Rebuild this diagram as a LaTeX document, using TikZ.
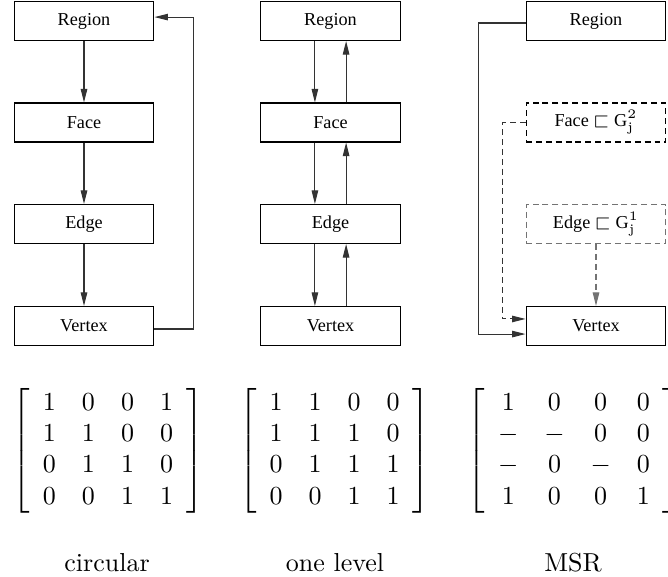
\documentclass[tikz,border=0pt]{standalone}
\usepackage{amssymb}
\usepackage{fontspec}
\newfontfamily\boxfont{Liberation Serif}
\usetikzlibrary{arrows.meta}
\begin{document}
\begin{tikzpicture}[x=0.3846pt,y=-0.3846pt,
  stepbox/.style={draw=black, line width=0.4pt, minimum width=53.8pt, minimum height=15pt, inner sep=0pt, font=\boxfont\fontsize{7}{8.4}\selectfont},
  dashbox/.style={stepbox, dash pattern=on 2.3pt off 1.5pt},
  greybox/.style={dashbox, draw=black!55},
  conn/.style={draw=black!80, line width=0.4pt, -{Triangle[length=5.2pt,width=2.5pt]}},
  dconn/.style={conn, dash pattern=on 2.3pt off 1.5pt},
  gconn/.style={dconn, draw=black!55},
  matnode/.style={inner sep=0pt, font=\fontsize{10}{12}\selectfont},
  caption/.style={inner sep=0pt, font=\fontsize{10}{12}\selectfont}]
\useasboundingbox (0,0) rectangle (668,577);

% column 1: circular
\node[stepbox] (r1) at (84,21) {Region};
\node[stepbox] (f1) at (84,122.5) {Face};
\node[stepbox] (e1) at (84,224) {Edge};
\node[stepbox] (v1) at (84,326) {Vertex};
\draw[conn] (r1) -- (f1);
\draw[conn] (f1) -- (e1);
\draw[conn] (e1) -- (v1);
\draw[conn] ([yshift=-1.15pt]v1.east) -- ++(39,0) |- ([yshift=1.5pt]r1.east);

% column 2: one level
\node[stepbox] (r2) at (330.5,21) {Region};
\node[stepbox] (f2) at (330.5,122.5) {Face};
\node[stepbox] (e2) at (330.5,224) {Edge};
\node[stepbox] (v2) at (330.5,326) {Vertex};
\draw[conn] ([xshift=-6pt]r2.south) -- ([xshift=-6pt]f2.north);
\draw[conn] ([xshift=6pt]f2.north) -- ([xshift=6pt]r2.south);
\draw[conn] ([xshift=-6pt]f2.south) -- ([xshift=-6pt]e2.north);
\draw[conn] ([xshift=6pt]e2.north) -- ([xshift=6pt]f2.south);
\draw[conn] ([xshift=-6pt]e2.south) -- ([xshift=-6pt]v2.north);
\draw[conn] ([xshift=6pt]v2.north) -- ([xshift=6pt]e2.south);

% column 3: MSR
\node[stepbox] (r3) at (596,21) {Region};
\node[dashbox] (f3) at (596,122.5) {Face $\sqsubset$ G$^{2}_{\mathrm{j}}$};
\node[greybox] (e3) at (596,224) {Edge $\sqsubset$ G$^{1}_{\mathrm{j}}$};
\node[stepbox] (v3) at (596,326) {Vertex};
\draw[conn] ([yshift=-0.77pt]r3.west) -- ++(-47,0) |- ([yshift=-3.1pt]v3.west);
\draw[dconn] (f3.west) -- ++(-23,0) |- ([yshift=2.7pt]v3.west);
\draw[gconn] (e3.south) -- (v3.north);

% matrices
\node[matnode] (m1) at (108,451) {$\left[\begin{array}{cccc}1&0&0&1\\1&1&0&0\\0&1&1&0\\0&0&1&1\end{array}\right]$};
\node[matnode] (m2) at (334.5,451) {$\left[\begin{array}{cccc}1&1&0&0\\1&1&1&0\\0&1&1&1\\0&0&1&1\end{array}\right]$};
\node[matnode] (m3) at (574,451) {$\left[\begin{array}{cccc}1&0&0&0\\-&-&0&0\\-&0&-&0\\1&0&0&1\end{array}\right]$};

\node[caption] (c1) at (107,563) {circular};
\node[caption] (c2) at (335,563) {one level};
\node[caption] (c3) at (573,563) {MSR};
\end{tikzpicture}
\end{document}
